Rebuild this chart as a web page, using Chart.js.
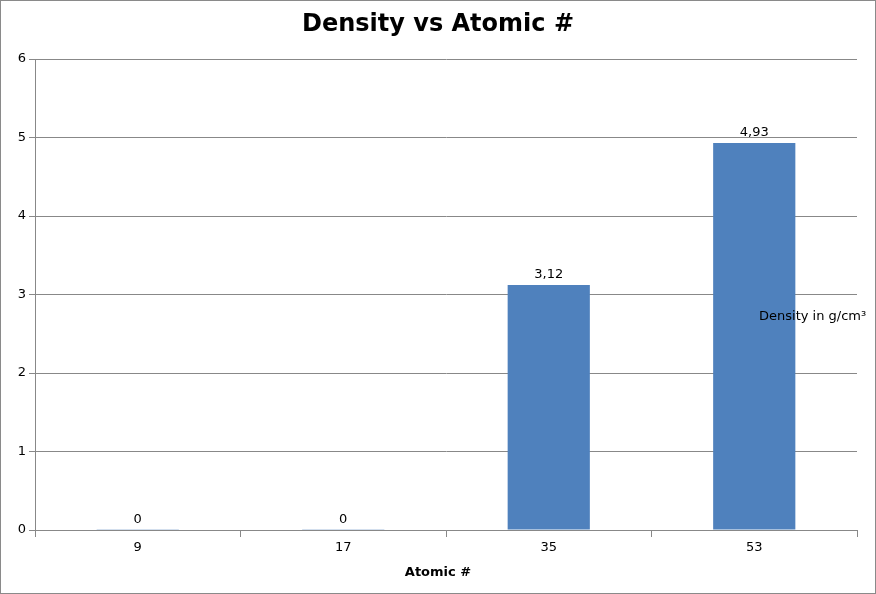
<!DOCTYPE html>
<html>
<head>
<meta charset="utf-8">
<script src="https://cdn.jsdelivr.net/npm/chart.js@4/dist/chart.umd.min.js"></script>
<style>
  html, body { margin: 0; padding: 0; background: #fff; }
  #wrap { width: 876px; height: 594px; }
</style>
</head>
<body>
<div id="wrap"><canvas id="Diagram1" width="876" height="594"></canvas></div>
<script>
var atomicNumbers = ['9', '17', '35', '53'];
var densities = [0.0017, 0.0032, 3.12, 4.93];
var seriesName = 'Density in g/cm\u00b3';
var chartTitle = 'Density vs Atomic #';
var xTitle = 'Atomic #';

var font = "'DejaVu Sans', sans-serif";

// title, axis title, legend text, value labels and outer frame
var extras = {
    id: 'extras',
    afterDraw: function(chart) {
        var c = chart.ctx;
        c.save();
        c.strokeStyle = '#8a8a8a';
        c.lineWidth = 1;
        c.strokeRect(0.5, 0.5, chart.width - 1, chart.height - 1);

        c.fillStyle = '#000';
        c.textAlign = 'center';
        c.textBaseline = 'middle';
        c.font = 'bold 24px ' + font;
        c.fillText(chartTitle, chart.width / 2, 25);

        c.font = 'bold 13px ' + font;
        c.fillText(xTitle, chart.width / 2, 573);

        var meta = chart.getDatasetMeta(0);
        c.font = '13px ' + font;
        c.textBaseline = 'alphabetic';
        meta.data.forEach(function(bar, i) {
            var v = densities[i];
            var txt = (Math.round(v * 100) / 100).toString().replace('.', ',');
            c.fillText(txt, bar.x, bar.y - 7);
        });

        c.textAlign = 'left';
        c.textBaseline = 'middle';
        c.fillText(seriesName, 759, 317);
        c.restore();
    }
};

var ctx1 = document.getElementById('Diagram1').getContext('2d');
var BarChart1 = new Chart(ctx1, {
    type: 'bar',
    data: {
        labels: atomicNumbers,
        datasets: [
        {
            label: seriesName,
            backgroundColor: '#4f81bd',
            borderWidth: 0,
            barPercentage: 0.4,
            categoryPercentage: 1,
            data: densities
        }]
    },
    options: {
        responsive: false,
        animation: false,
        layout: { padding: { top: 59, right: 19, left: 0, bottom: 0 } },
        plugins: {
            legend: { display: false },
            title: { display: false },
            tooltip: { enabled: false }
        },
        scales: {
            x: {
                offset: true,
                grid: { offset: true, drawOnChartArea: false, drawTicks: true, tickLength: 7, color: '#888' },
                border: { color: '#888' },
                ticks: { color: '#000', font: { family: font, size: 13 }, padding: 3 },
                afterFit: function(scale) { scale.height = 64; }
            },
            y: {
                min: 0,
                max: 6,
                ticks: { stepSize: 1, color: '#000', font: { family: font, size: 13 }, padding: 3 },
                grid: { color: '#888', tickLength: 6 },
                border: { color: '#888' },
                afterFit: function(scale) { scale.width = 35; }
            }
        }
    },
    plugins: [extras]
});
</script>
</body>
</html>
